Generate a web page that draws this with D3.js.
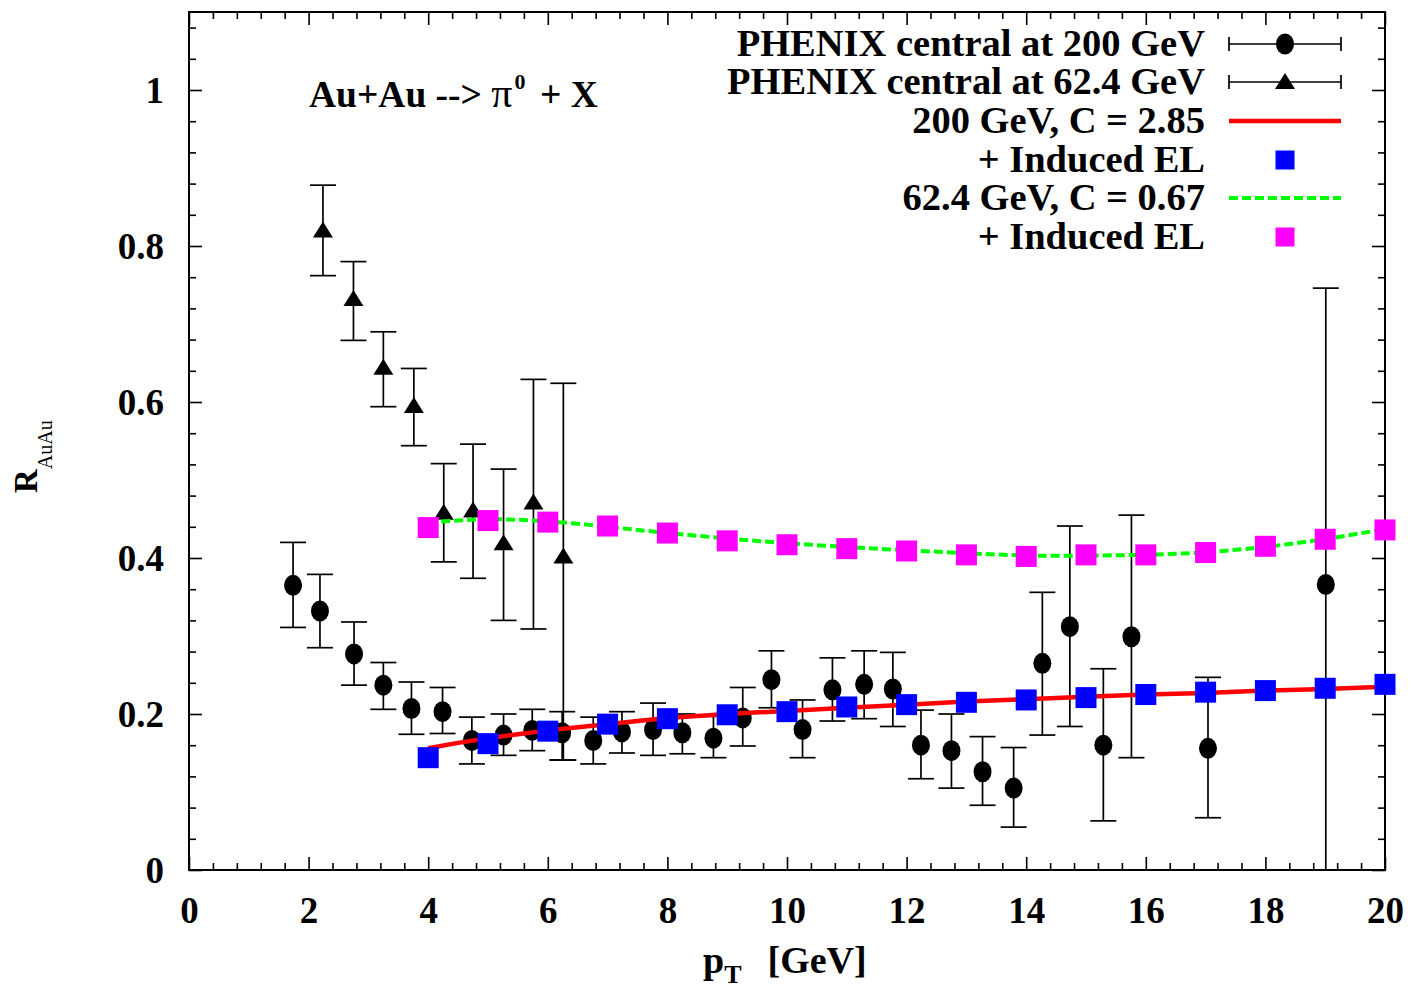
<!DOCTYPE html>
<html>
<head>
<meta charset="utf-8">
<script src="https://cdn.jsdelivr.net/npm/d3@7"></script>
<style>
  body { margin: 0; background: #fff; }
  svg { display: block; }
  text { font-family: "Liberation Serif", "Times New Roman", serif; fill: #000; }
</style>
</head>
<body>
<svg id="chart" width="1412" height="989"></svg>
<script>
// PHENIX central Au+Au, 200 GeV (pT, R_AuAu, upper and lower error edges)
const pt200 = [1.74, 2.19, 2.76, 3.25, 3.72, 4.24, 4.73, 5.26, 5.74, 6.24, 6.76, 7.24, 7.76, 8.25, 8.77, 9.26, 9.74, 10.26, 10.76, 11.29, 11.77, 12.24, 12.75, 13.27, 13.79, 14.27, 14.73, 15.29, 15.76, 17.04, 19.01];
const r200  = [0.365, 0.332, 0.277, 0.237, 0.207, 0.203, 0.166, 0.173, 0.179, 0.176, 0.166, 0.177, 0.180, 0.176, 0.169, 0.195, 0.244, 0.180, 0.231, 0.238, 0.232, 0.160, 0.153, 0.126, 0.105, 0.265, 0.312, 0.160, 0.299, 0.156, 0.366];
const hi200 = [0.420, 0.379, 0.318, 0.266, 0.241, 0.234, 0.196, 0.200, 0.206, 0.203, 0.196, 0.203, 0.214, 0.200, 0.197, 0.234, 0.281, 0.218, 0.272, 0.281, 0.279, 0.205, 0.200, 0.171, 0.157, 0.356, 0.441, 0.258, 0.455, 0.247, 0.746];
const lo200 = [0.311, 0.285, 0.237, 0.206, 0.174, 0.175, 0.136, 0.147, 0.153, 0.141, 0.136, 0.150, 0.147, 0.149, 0.144, 0.159, 0.208, 0.144, 0.191, 0.194, 0.184, 0.117, 0.105, 0.083, 0.055, 0.173, 0.184, 0.063, 0.144, 0.067, 0.0];

// PHENIX central Au+Au, 62.4 GeV
const pt62 = [2.24, 2.75, 3.25, 3.76, 4.26, 4.75, 5.26, 5.76, 6.26];
const r62  = [0.820, 0.732, 0.644, 0.595, 0.458, 0.461, 0.419, 0.471, 0.402];
const hi62 = [0.878, 0.780, 0.690, 0.643, 0.521, 0.546, 0.514, 0.629, 0.624];
const lo62 = [0.762, 0.679, 0.594, 0.544, 0.395, 0.374, 0.320, 0.309, 0.141];

// Model curves
const curvePt = [4, 4.5, 5, 5.5, 6, 6.5, 7, 7.5, 8, 9, 10, 11, 12, 13, 14, 15, 16, 17, 18, 19, 20];
const curve200 = [0.156, 0.163, 0.169, 0.174, 0.179, 0.183, 0.187, 0.191, 0.195, 0.200, 0.204, 0.208, 0.212, 0.216, 0.219, 0.222, 0.225, 0.227, 0.230, 0.232, 0.235];
const curve62  = [0.446, 0.448, 0.450, 0.449, 0.447, 0.444, 0.440, 0.436, 0.432, 0.425, 0.419, 0.414, 0.410, 0.406, 0.403, 0.403, 0.404, 0.407, 0.414, 0.424, 0.437];

// Model with induced energy loss
const elPt  = [4, 5, 6, 7, 8, 9, 10, 11, 12, 13, 14, 15, 16, 17, 18, 19, 20];
const el200 = [0.144, 0.162, 0.178, 0.187, 0.194, 0.199, 0.203, 0.209, 0.212, 0.215, 0.218, 0.221, 0.225, 0.228, 0.230, 0.233, 0.238];
const el62  = [0.439, 0.448, 0.446, 0.441, 0.432, 0.422, 0.417, 0.412, 0.409, 0.404, 0.402, 0.404, 0.404, 0.407, 0.415, 0.424, 0.436];

// Axis ticks
const xMajor = [0, 2, 4, 6, 8, 10, 12, 14, 16, 18, 20];
const yMajor = [0, 0.2, 0.4, 0.6, 0.8, 1];
const yLabels = ["0", "0.2", "0.4", "0.6", "0.8", "1"];

const legendLabels = [
  "PHENIX central at 200 GeV",
  "PHENIX central at 62.4 GeV",
  "200 GeV, C = 2.85",
  "+ Induced EL",
  "62.4 GeV, C = 0.67",
  "+ Induced EL"
];

const L = 189, R = 1385, T = 12, B = 870;
const svg = d3.select("#chart");
const x = d3.scaleLinear().domain([0, 20]).range([L, R]);
const y = d3.scaleLinear().domain([0, 1.1]).range([B, T]);

const FS = 37;
const MAJ = 13, MIN = 7;

// minor tick positions (every 0.4 in pT, every 0.04 in R)
const xMinor = d3.range(0, 51).map(i => +(i * 0.4).toFixed(2)).filter(v => Math.abs(v / 2 - Math.round(v / 2)) > 1e-6);
const yMinor = d3.range(0, 28).map(i => +(i * 0.04).toFixed(2)).filter(v => Math.abs(v / 0.2 - Math.round(v / 0.2)) > 1e-6);

function styleAxis(g) {
  g.select(".domain").remove();
  g.selectAll(".tick line").attr("stroke", "#000").attr("stroke-width", 1.6);
}

// bottom axis with labels
const gB = svg.append("g").attr("transform", `translate(0,${B})`)
  .call(d3.axisBottom(x).tickValues(xMajor).tickSize(-MAJ).tickFormat(d3.format("d")));
styleAxis(gB);
gB.selectAll(".tick text").attr("y", 53).attr("dy", null)
  .attr("font-size", FS).attr("font-weight", "bold")
  .attr("font-family", "Liberation Serif, serif");
svg.append("g").attr("transform", `translate(0,${B})`)
  .call(d3.axisBottom(x).tickValues(xMinor).tickSize(-MIN).tickFormat("")).call(styleAxis);
// top mirror
svg.append("g").attr("transform", `translate(0,${T})`)
  .call(d3.axisTop(x).tickValues(xMajor).tickSize(-MAJ).tickFormat("")).call(styleAxis);
svg.append("g").attr("transform", `translate(0,${T})`)
  .call(d3.axisTop(x).tickValues(xMinor).tickSize(-MIN).tickFormat("")).call(styleAxis);

// left axis with labels
const gL = svg.append("g").attr("transform", `translate(${L},0)`)
  .call(d3.axisLeft(y).tickValues(yMajor).tickSize(-MAJ).tickFormat((d, i) => yLabels[i]));
styleAxis(gL);
gL.selectAll(".tick text").attr("x", -25).attr("dy", "0.34em")
  .attr("font-size", FS).attr("font-weight", "bold")
  .attr("font-family", "Liberation Serif, serif");
svg.append("g").attr("transform", `translate(${L},0)`)
  .call(d3.axisLeft(y).tickValues(yMinor).tickSize(-MIN).tickFormat("")).call(styleAxis);
// right mirror
svg.append("g").attr("transform", `translate(${R},0)`)
  .call(d3.axisRight(y).tickValues(yMajor).tickSize(-MAJ).tickFormat("")).call(styleAxis);
svg.append("g").attr("transform", `translate(${R},0)`)
  .call(d3.axisRight(y).tickValues(yMinor).tickSize(-MIN).tickFormat("")).call(styleAxis);

// frame
svg.append("rect").attr("x", L).attr("y", T).attr("width", R - L).attr("height", B - T)
  .attr("fill", "none").attr("stroke", "#000").attr("stroke-width", 2);

// error bars
const CAP = 13;
function errorBars(xs, ys, his, los) {
  const g = svg.append("g").attr("stroke", "#000").attr("stroke-width", 1.7);
  xs.forEach((p, i) => {
    const cx = x(p);
    g.append("line").attr("x1", cx).attr("x2", cx).attr("y1", y(his[i])).attr("y2", y(los[i]));
    g.append("line").attr("x1", cx - CAP).attr("x2", cx + CAP).attr("y1", y(his[i])).attr("y2", y(his[i]));
    if (los[i] > 0) g.append("line").attr("x1", cx - CAP).attr("x2", cx + CAP).attr("y1", y(los[i])).attr("y2", y(los[i]));
  });
}
errorBars(pt200, r200, hi200, lo200);
errorBars(pt62, r62, hi62, lo62);

function triPath(cx, cy) {
  return `M${cx},${cy - 9}L${cx + 10},${cy + 7}L${cx - 10},${cy + 7}Z`;
}

svg.append("g").selectAll("ellipse").data(pt200).join("ellipse")
  .attr("cx", d => x(d)).attr("cy", (d, i) => y(r200[i]))
  .attr("rx", 9).attr("ry", 10.5).attr("fill", "#000");
svg.append("g").selectAll("path").data(pt62).join("path")
  .attr("d", (d, i) => triPath(x(d), y(r62[i]))).attr("fill", "#000");

// model curves and markers
const line = d3.line().x(d => x(d[0])).y(d => y(d[1]));
svg.append("path").datum(curvePt.map((p, i) => [p, curve200[i]]))
  .attr("d", line).attr("fill", "none").attr("stroke", "#ff0000").attr("stroke-width", 4.5);
const SQ = 21;
svg.append("g").selectAll("rect").data(elPt).join("rect")
  .attr("x", d => x(d) - SQ / 2).attr("y", (d, i) => y(el200[i]) - SQ / 2)
  .attr("width", SQ).attr("height", SQ).attr("fill", "#0000ff");
svg.append("path").datum(curvePt.map((p, i) => [p, curve62[i]]))
  .attr("d", line).attr("fill", "none").attr("stroke", "#00ff00").attr("stroke-width", 4)
  .attr("stroke-dasharray", "9,4");
svg.append("g").selectAll("rect").data(elPt).join("rect")
  .attr("x", d => x(d) - SQ / 2).attr("y", (d, i) => y(el62[i]) - SQ / 2)
  .attr("width", SQ).attr("height", SQ).attr("fill", "#ff00ff");

// legend
const rows = [44, 82, 121, 160, 198, 237];
const lg = svg.append("g");
lg.selectAll("text").data(legendLabels).join("text")
  .attr("x", 1205).attr("y", (d, i) => rows[i] + 12)
  .attr("text-anchor", "end").attr("font-size", 38.5).attr("font-weight", "bold")
  .text(d => d);
const s0 = 1229, s1 = 1341, sm = 1285;
[0, 1].forEach(i => {
  const cy = rows[i];
  lg.append("line").attr("x1", s0).attr("x2", s1).attr("y1", cy).attr("y2", cy).attr("stroke", "#000").attr("stroke-width", 1.7);
  lg.append("line").attr("x1", s0).attr("x2", s0).attr("y1", cy - 7).attr("y2", cy + 7).attr("stroke", "#000").attr("stroke-width", 1.7);
  lg.append("line").attr("x1", s1).attr("x2", s1).attr("y1", cy - 7).attr("y2", cy + 7).attr("stroke", "#000").attr("stroke-width", 1.7);
});
lg.append("ellipse").attr("cx", sm).attr("cy", rows[0]).attr("rx", 9).attr("ry", 10.5).attr("fill", "#000");
lg.append("path").attr("d", triPath(sm, rows[1])).attr("fill", "#000");
lg.append("line").attr("x1", s0).attr("x2", s1).attr("y1", rows[2]).attr("y2", rows[2]).attr("stroke", "#ff0000").attr("stroke-width", 4.5);
lg.append("rect").attr("x", sm - 9.5).attr("y", rows[3] - 9.5).attr("width", 19).attr("height", 19).attr("fill", "#0000ff");
lg.append("line").attr("x1", s0).attr("x2", s1).attr("y1", rows[4]).attr("y2", rows[4]).attr("stroke", "#00ff00").attr("stroke-width", 4).attr("stroke-dasharray", "9,4");
lg.append("rect").attr("x", sm - 9.5).attr("y", rows[5] - 9.5).attr("width", 19).attr("height", 19).attr("fill", "#ff00ff");

// reaction annotation
const ann = svg.append("text").attr("x", 309).attr("y", 107).attr("font-size", 37.5).attr("font-weight", "bold");
ann.append("tspan").text("Au+Au --> ");
ann.append("tspan").attr("font-weight", "normal").attr("font-size", 42).text("π");
ann.append("tspan").attr("font-size", 22).attr("dy", -18).attr("dx", 2).text("0");
ann.append("tspan").attr("dy", 18).attr("dx", 5).text(" + X");

// axis titles
const xt = svg.append("text").attr("x", 703).attr("y", 973).attr("font-size", 38).attr("font-weight", "bold");
xt.append("tspan").text("p");
xt.append("tspan").attr("font-size", 26).attr("dy", 10).text("T");
xt.append("tspan").attr("dy", -10).attr("dx", 26).text("[GeV]");

const yt = svg.append("text").attr("transform", "translate(37,493) rotate(-90)").attr("font-size", 33).attr("font-weight", "bold");
yt.append("tspan").text("R");
yt.append("tspan").attr("font-size", 20).attr("font-weight", "normal").attr("dy", 15).text("AuAu");
</script>
</body>
</html>
